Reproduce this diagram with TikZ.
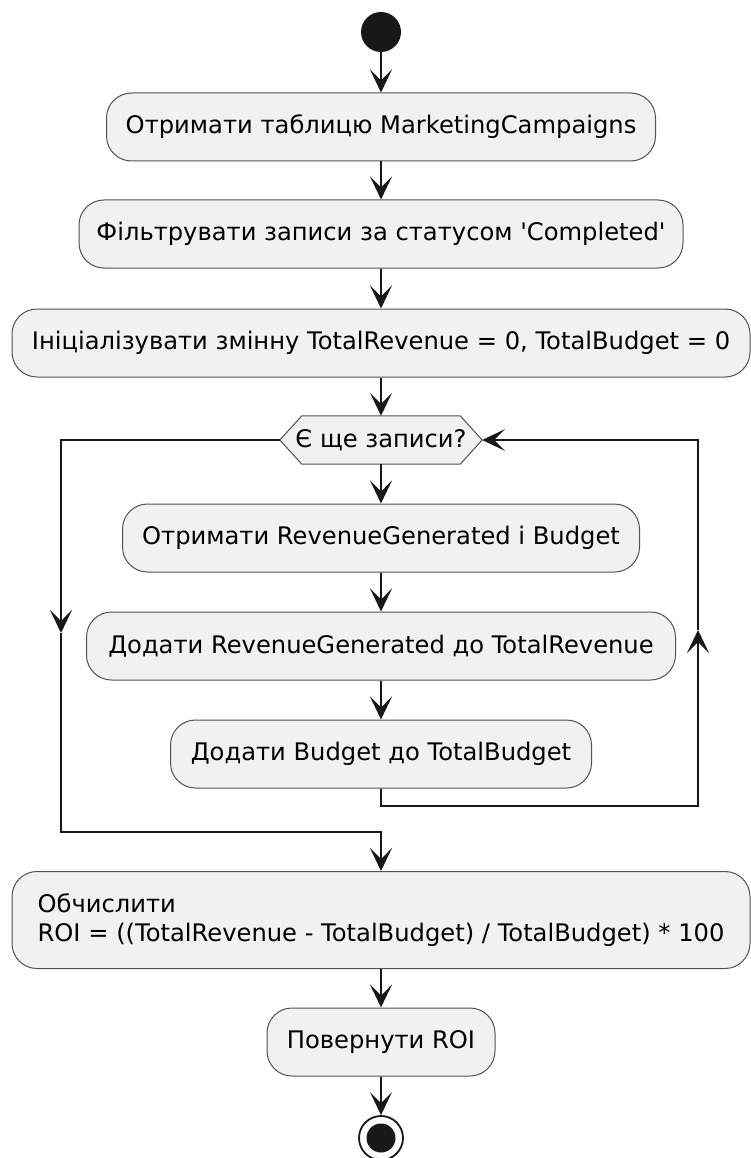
\documentclass[tikz,border=0pt]{standalone}
\usepackage{fontspec}
\setmainfont{DejaVu Sans}[Ligatures=TeXOff]
\usetikzlibrary{arrows.meta,calc}
\definecolor{boxfill}{HTML}{F1F1F1}
\definecolor{ink}{HTML}{181818}
\begin{document}
\begin{tikzpicture}[x=1pt,y=-1pt,
  font=\fontsize{24.2}{29}\selectfont,
  actbox/.style={draw=ink!75,fill=boxfill,line width=1pt,rounded corners=25pt,
    minimum height=68pt,inner sep=0pt,align=left},
  flow/.style={draw=ink,line width=1.8pt,-{Stealth[length=23pt,width=22pt,inset=11pt]}},
  plain/.style={draw=ink,line width=1.8pt}]
\useasboundingbox (0,0) rectangle (750,1158);

% start and end markers
\node[circle,fill=ink,minimum size=40pt,inner sep=0pt] (start) at (381,32) {};
\node[circle,draw=ink,line width=1.8pt,fill=white,minimum size=44pt,inner sep=0pt] (stop) at (381,1138) {};
\fill[ink] (stop.center) circle (14.5pt);

% activities
\node[actbox,minimum width=549pt] (a1) at (381,127) {Отримати таблицю MarketingCampaigns};
\node[actbox,minimum width=604pt] (a2) at (381,234) {Фільтрувати записи за статусом 'Completed'};
\node[actbox,minimum width=738pt] (a3) at (381,343) {Ініціалізувати змінну TotalRevenue = 0, TotalBudget = 0};

% loop condition (hexagon)
\node[minimum width=202pt,minimum height=48pt,inner sep=0pt] (hex) at (381,440) {};
\draw[draw=ink!75,fill=boxfill,line width=1pt]
  (hex.west) -- ($(hex.north west)+(22,0)$) -- ($(hex.north east)+(-22,0)$)
  -- (hex.east) -- ($(hex.south east)+(-22,0)$) -- ($(hex.south west)+(22,0)$) -- cycle;
\node at (hex.center) {Є ще записи?};

\node[actbox,minimum width=517pt] (a4) at (381,538) {Отримати RevenueGenerated і Budget};
\node[actbox,minimum width=589pt] (a5) at (381,646) {Додати RevenueGenerated до TotalRevenue};
\node[actbox,minimum width=421pt] (a6) at (381,754) {Додати Budget до TotalBudget};

\node[actbox,minimum width=738pt,minimum height=97pt] (a7) at (381,920)
  {Обчислити\\ROI = ((TotalRevenue - TotalBudget) / TotalBudget) * 100};
\node[actbox,minimum width=228pt] (a8) at (381,1042) {Повернути ROI};

% straight flow
\draw[flow] (start) -- (a1);
\draw[flow] (a1) -- (a2);
\draw[flow] (a2) -- (a3);
\draw[flow] (a3) -- (hex.north);
\draw[flow] (hex.south) -- (a4);
\draw[flow] (a4) -- (a5);
\draw[flow] (a5) -- (a6);
\draw[flow] (a7) -- (a8);
\draw[flow] (a8) -- (stop);

% loop back edge
\coordinate (rbot) at (698,806);
\coordinate (rmid) at (698,630);
\draw[flow] (a6.south) |- (rbot) -- (rmid);
\draw[flow] (rmid) |- (hex.east);

% loop exit
\coordinate (lmid) at (61,633);
\coordinate (lbot) at (61,832);
\draw[flow] (hex.west) -| (lmid);
\draw[flow] (lmid) -- (lbot) -| (a7.north);
\end{tikzpicture}
\end{document}
